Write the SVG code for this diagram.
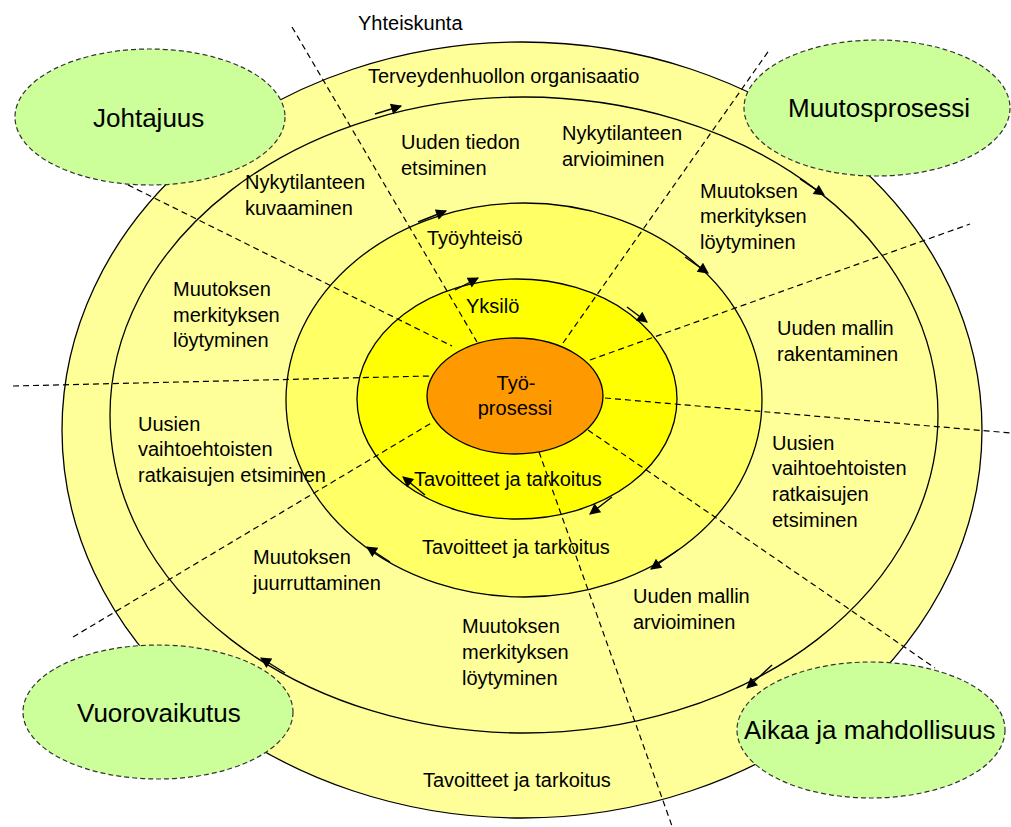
<svg xmlns="http://www.w3.org/2000/svg" width="1011" height="827" viewBox="0 0 1011 827">
<style>
text{font-family:"Liberation Sans",Arial,sans-serif;font-size:20px;fill:#000}
.big{font-size:26px}
.ring{stroke:#000;stroke-width:1.3}
.div{stroke:#000;stroke-width:1.2;stroke-dasharray:6 4;fill:none}
.arr{stroke:#000;stroke-width:1.4;fill:none;marker-end:url(#ah)}
.green{fill:#CCFF99;stroke:#333;stroke-width:1.2;stroke-dasharray:5 3}
</style>
<defs>
<marker id="ah" viewBox="0 0 10 10" refX="9" refY="5" markerWidth="13" markerHeight="11" markerUnits="userSpaceOnUse" orient="auto">
<path d="M0,0 L10,5 L0,10 z" fill="#000"/>
</marker>
</defs>
<rect width="1011" height="827" fill="#fff"/>
<g id="ring-organisaatio">
<ellipse class="ring" cx="522" cy="430" rx="460" ry="388" fill="#FFFF99"/>
</g>
<g id="ring-muutosprosessi">
<ellipse class="ring" cx="524" cy="415" rx="414" ry="318" fill="#FFFF99"/>
</g>
<g id="ring-tyoyhteiso">
<ellipse class="ring" cx="524" cy="400" rx="238" ry="197" fill="#FFFF66"/>
</g>
<g id="ring-yksilo">
<ellipse class="ring" cx="517" cy="399" rx="160" ry="120" fill="#FFFF00"/>
</g>
<g id="connectors">
<line class="div" x1="292" y1="27" x2="477" y2="342"/>
<line class="div" x1="110" y1="176" x2="452" y2="346"/>
<line class="div" x1="13" y1="386" x2="430" y2="376"/>
<line class="div" x1="73" y1="637" x2="433" y2="422"/>
<line class="div" x1="539" y1="452" x2="672" y2="826"/>
<line class="div" x1="588" y1="430" x2="935" y2="668"/>
<line class="div" x1="605" y1="398" x2="1011" y2="433"/>
<line class="div" x1="590" y1="360" x2="970" y2="224"/>
<line class="div" x1="563" y1="343" x2="770" y2="49"/>
<line class="arr" x1="375" y1="114" x2="401" y2="106"/>
<line class="arr" x1="418" y1="222" x2="446" y2="211"/>
<line class="arr" x1="455" y1="290" x2="478" y2="278"/>
<line class="arr" x1="627" y1="307" x2="647" y2="322"/>
<line class="arr" x1="685" y1="257" x2="708" y2="273"/>
<line class="arr" x1="800" y1="179" x2="824" y2="195"/>
<line class="arr" x1="612" y1="497" x2="590" y2="514"/>
<line class="arr" x1="678" y1="550" x2="651" y2="569"/>
<line class="arr" x1="772" y1="665" x2="747" y2="688"/>
<line class="arr" x1="285" y1="673" x2="261" y2="658"/>
<line class="arr" x1="390" y1="562" x2="367" y2="547"/>
<line class="arr" x1="425" y1="495" x2="403" y2="477"/>
</g>
<g id="tyoprosessi">
<ellipse class="ring" cx="515" cy="396" rx="88" ry="58" fill="#FF9900"/>
<text x="516" y="390" text-anchor="middle">Työ-</text>
<text x="515" y="415" text-anchor="middle">prosessi</text>
</g>
<g id="labels">
<text x="358" y="30">Yhteiskunta</text>
<text x="368" y="83">Terveydenhuollon organisaatio</text>
<text x="401" y="149">Uuden tiedon</text>
<text x="401" y="175">etsiminen</text>
<text x="562" y="140">Nykytilanteen</text>
<text x="562" y="166">arvioiminen</text>
<text x="245" y="189">Nykytilanteen</text>
<text x="245" y="215">kuvaaminen</text>
<text x="427" y="245">Työyhteisö</text>
<text x="700" y="198">Muutoksen</text>
<text x="700" y="223">merkityksen</text>
<text x="700" y="249">löytyminen</text>
<text x="466" y="313">Yksilö</text>
<text x="173" y="296">Muutoksen</text>
<text x="173" y="322">merkityksen</text>
<text x="173" y="347">löytyminen</text>
<text x="777" y="335">Uuden mallin</text>
<text x="777" y="361">rakentaminen</text>
<text x="138" y="431">Uusien</text>
<text x="138" y="456">vaihtoehtoisten</text>
<text x="138" y="482">ratkaisujen etsiminen</text>
<text x="772" y="450">Uusien</text>
<text x="772" y="475">vaihtoehtoisten</text>
<text x="772" y="501">ratkaisujen</text>
<text x="772" y="527">etsiminen</text>
<text x="414" y="486">Tavoitteet ja tarkoitus</text>
<text x="422" y="554">Tavoitteet ja tarkoitus</text>
<text x="253" y="564">Muutoksen</text>
<text x="253" y="590">juurruttaminen</text>
<text x="633" y="603">Uuden mallin</text>
<text x="633" y="629">arvioiminen</text>
<text x="462" y="633">Muutoksen</text>
<text x="462" y="659">merkityksen</text>
<text x="462" y="685">löytyminen</text>
<text x="423" y="787">Tavoitteet ja tarkoitus</text>
</g>
<g id="johtajuus">
<ellipse class="green" cx="150" cy="117" rx="135" ry="68"/>
<text class="big" x="93" y="127">Johtajuus</text>
</g>
<g id="muutosprosessi">
<ellipse class="green" cx="877" cy="108" rx="133" ry="68"/>
<text class="big" x="788" y="117">Muutosprosessi</text>
</g>
<g id="vuorovaikutus">
<ellipse class="green" cx="158" cy="712" rx="135" ry="67"/>
<text class="big" x="77" y="722">Vuorovaikutus</text>
</g>
<g id="aikaa">
<ellipse class="green" cx="871" cy="730" rx="134" ry="68"/>
<text class="big" x="744" y="739">Aikaa ja mahdollisuus</text>
</g>
</svg>
